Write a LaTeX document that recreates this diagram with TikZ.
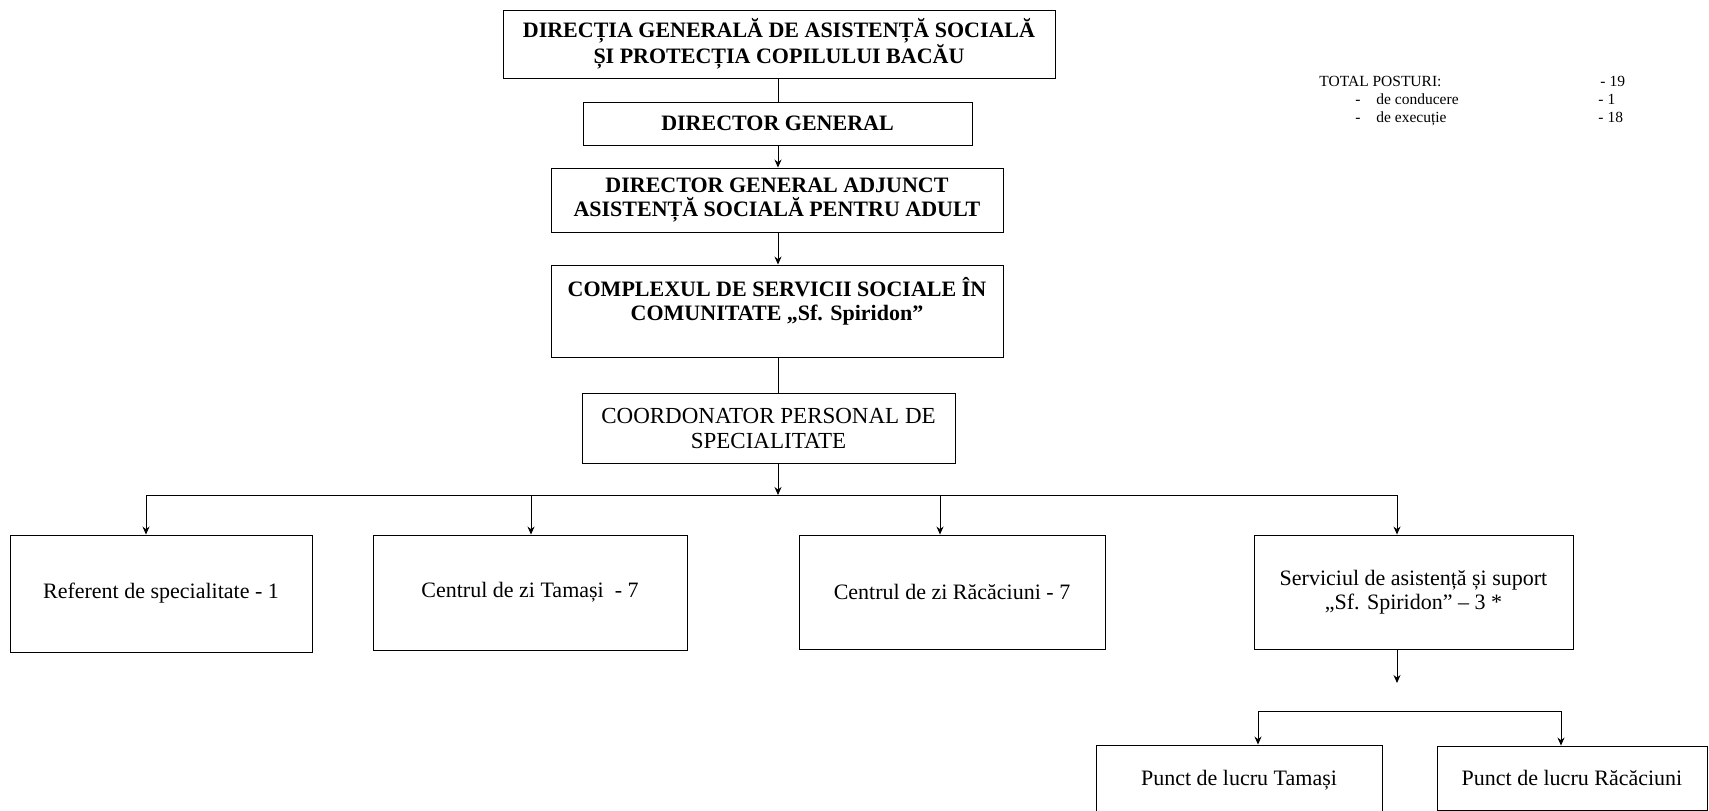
\documentclass[tikz,border=0pt]{standalone}
\usepackage{fontspec}
\setmainfont{Liberation Serif}
\usetikzlibrary{arrows.meta}

\begin{document}
\begin{tikzpicture}[x=1pt,y=-1pt,>={Stealth[length=8pt,width=7pt]},line width=0.9pt,
                    every node/.style={inner sep=0pt,align=center}]
          \tikzstyle{head}=[draw,rectangle,font=\bfseries\fontsize{22}{24.5}\selectfont]
          \tikzstyle{unitbox}=[draw,rectangle,font=\fontsize{22}{24}\selectfont]
          \tikzstyle{note}=[anchor=base west,font=\fontsize{15.5}{18}\selectfont]

          \useasboundingbox (0,0) rectangle (1709,811);

          % conducere
          \node[head,minimum width=552,minimum height=68] (dir) at (779,44)
               {DIRECȚIA GENERALĂ DE ASISTENȚĂ SOCIALĂ\\ ȘI PROTECȚIA COPILULUI BACĂU};
          \node[head,minimum width=389,minimum height=43] (dg) at (777.5,123.5) {DIRECTOR GENERAL};
          \node[head,minimum width=452,minimum height=64] (adj) at (777,200)
               {DIRECTOR GENERAL ADJUNCT\\ ASISTENȚĂ SOCIALĂ PENTRU ADULT};
          \node[head,minimum width=452,minimum height=92] (compl) at (777,311)
               {COMPLEXUL DE SERVICII SOCIALE ÎN\\ COMUNITATE „Sf. Spiridon”\\ \mbox{}};
          \node[unitbox,minimum width=373,minimum height=70,font=\fontsize{23}{25}\selectfont] (coord) at (768.5,428)
               {COORDONATOR PERSONAL DE\\ SPECIALITATE};

          % compartimente
          \node[unitbox,minimum width=302,minimum height=117] (ref) at (161,593.5) {Referent de specialitate - 1};
          \node[unitbox,minimum width=314,minimum height=115] (tam) at (530,592.5) {Centrul de zi Tamași~ - 7};
          \node[unitbox,minimum width=306,minimum height=114] (rac) at (952,592) {Centrul de zi Răcăciuni - 7};
          \node[unitbox,minimum width=319,minimum height=114] (serv) at (1413.5,592)
               {Serviciul de asistență și suport\\ „Sf. Spiridon” – 3 *};
          \node[unitbox,minimum width=286,minimum height=70] (ptam) at (1239,780) {Punct de lucru Tamași};
          \node[unitbox,minimum width=270,minimum height=64] (prac) at (1572,778) {Punct de lucru Răcăciuni};

          % posturi
          \node[note] (tot)  at (1319,86)  {TOTAL POSTURI:};
          \node[note] (totn) at (1600,86)  {- 19};
          \node[note] (cb)   at (1355,104) {-};
          \node[note] (cd)   at (1376,104) {de conducere};
          \node[note] (cn)   at (1598,104) {- 1};
          \node[note] (eb)   at (1355,122) {-};
          \node[note] (ed)   at (1376,122) {de execuție};
          \node[note] (en)   at (1598,122) {- 18};

          \coordinate (bl) at (146,495);
          \coordinate (br) at (1397,495);
          \coordinate (b2) at (940,495);
          \coordinate (b3) at (531,495);
          \coordinate (tr) at (778,495);
          \coordinate (sd) at (1397,683);
          \coordinate (pl) at (1258,711);
          \coordinate (pr) at (1561,711);

          \draw (tr |- dg.north) -- (tr |- dir.south);
          \draw[->] (tr |- dg.south) -- (tr |- adj.north);
          \draw[->] (tr |- adj.south) -- (tr |- compl.north);
          \draw (tr |- coord.north) -- (tr |- compl.south);
          \draw[->] (tr |- coord.south) -- (tr);
          \draw (bl) -- (br);
          \draw[->] (bl) -- (bl |- ref.north);
          \draw[->] (b3) -- (b3 |- tam.north);
          \draw[->] (b2) -- (b2 |- rac.north);
          \draw[->] (br) -- (br |- serv.north);
          \draw[->] (serv.south -| sd) -- (sd);
          \draw (pl) -- (pr);
          \draw[->] (pl) -- (pl |- ptam.north);
          \draw[->] (pr) -- (pr |- prac.north);

\end{tikzpicture}
\end{document}
